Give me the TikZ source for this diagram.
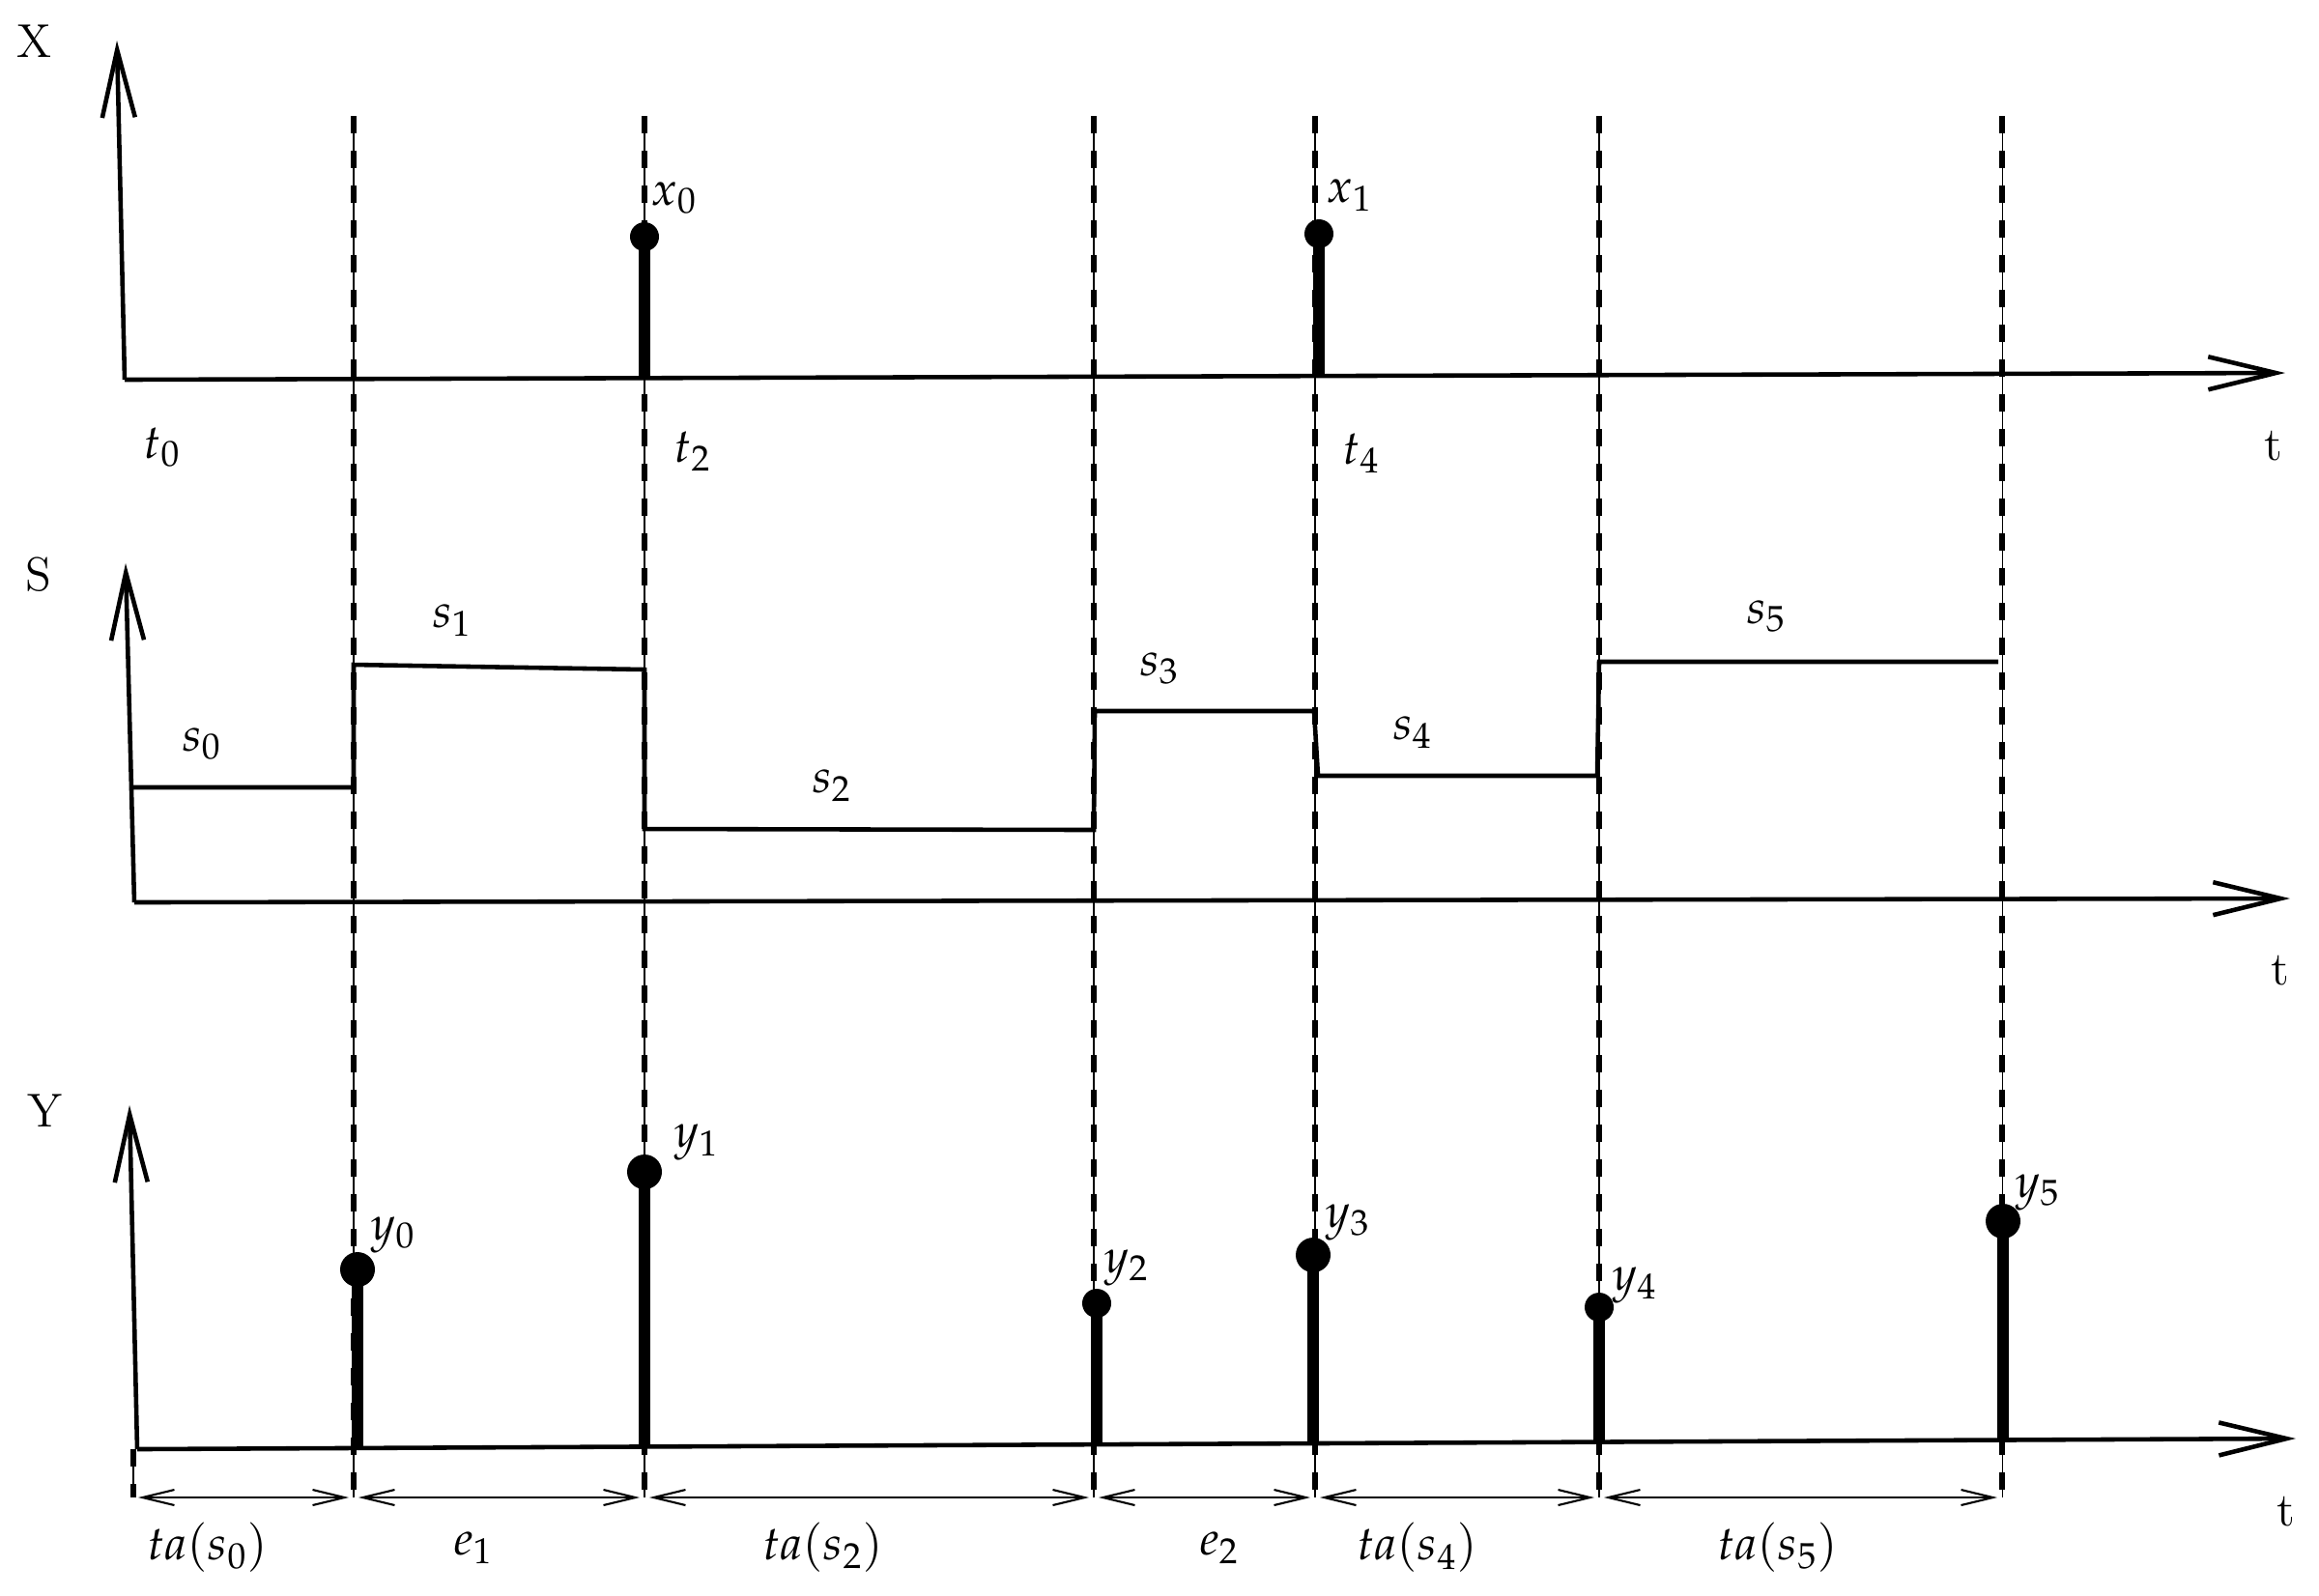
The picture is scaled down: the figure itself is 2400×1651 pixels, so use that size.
\documentclass[tikz,border=0pt]{standalone}
\usepackage{mathpazo}
\usetikzlibrary{arrows.meta}
\begin{document}
\begin{tikzpicture}[x=0.1mm,y=-0.1mm,
  axisline/.style={line width=1.3pt,-{Straight Barb[length=7mm,width=3.4mm,line width=1.3pt]}},
  guidethin/.style={line width=0.3pt},
  guidedash/.style={line width=1.45pt,dash pattern=on 1.8mm off 1.8mm},
  stemline/.style={line width=3.5pt},
  stepline/.style={line width=1.3pt,line join=miter},
  dimline/.style={line width=0.6pt,{Straight Barb[length=3.3mm,width=1.6mm,line width=0.6pt]}-{Straight Barb[length=3.3mm,width=1.6mm,line width=0.6pt]},shorten <=0.5mm,shorten >=0.5mm},
  lab/.style={inner sep=0pt,font=\fontsize{14}{17}\selectfont},
  dotsmall/.style={circle,fill=black,inner sep=0pt,minimum size=3mm},
  dotbig/.style={circle,fill=black,inner sep=0pt,minimum size=3.6mm}]
\useasboundingbox (0,0) rectangle (2400,1651);

% guide lines
\foreach \n/\xx in {1/366,2/667,3/1132,4/1361,5/1655,6/2072}{
  \coordinate (gt\n) at (\xx,120);
  \coordinate (gb\n) at (\xx,1550);
  \draw[guidethin] (gt\n) -- (gb\n);
  \draw[guidedash] (gt\n) -- (gb\n);
}
\coordinate (gt0) at (138,1500);
\coordinate (gb0) at (138,1550);
\draw[guidethin] (gt0) -- (gb0);
\draw[guidedash] (gt0) -- (gb0);

% ---------- X panel ----------
\coordinate (xo) at (129,393);
\coordinate (xtop) at (121,42);
\coordinate (xright) at (2365,386);
\draw[axisline] (xo) -- (xtop);
\draw[axisline] (xo) -- (xright);
\node[lab] (labX) at (36,43) {X};
\node[lab] (labXt) at (2353,462) {t};
\node[lab] (t0) at (168,463) {$t_0$};
\node[lab] (t2) at (717,467) {$t_2$};
\node[lab] (t4) at (1409,469) {$t_4$};

\coordinate (bx0) at (667,391);
\coordinate (bx1) at (1365,389);
\node[dotsmall] (dx0) at (667,245) {};
\node[dotsmall] (dx1) at (1365,242) {};
\draw[stemline] (bx0) -- (dx0.center);
\draw[stemline] (bx1) -- (dx1.center);
\node[lab] (lx0) at (698,205) {$x_0$};
\node[lab] (lx1) at (1397,202) {$x_1$};

% ---------- S panel ----------
\coordinate (so) at (139,934);
\coordinate (stop) at (130,583);
\coordinate (sright) at (2370,930);
\draw[axisline] (so) -- (stop);
\draw[axisline] (so) -- (sright);
\node[lab] (labS) at (40,595) {S};
\node[lab] (labSt) at (2360,1005) {t};

\coordinate (p0) at (137,815);
\coordinate (p1) at (366,815);
\coordinate (p2) at (366,688);
\coordinate (p3) at (667,693);
\coordinate (p4) at (667,858);
\coordinate (p5) at (1132,859);
\coordinate (p6) at (1133,736);
\coordinate (p7) at (1360,736);
\coordinate (p8) at (1364,803);
\coordinate (p9) at (1653,803);
\coordinate (p10) at (1655,685);
\coordinate (p11) at (2068,685);
\draw[stepline] (p0) -- (p1) -- (p2) -- (p3) -- (p4) -- (p5) -- (p6) -- (p7) -- (p8) -- (p9) -- (p10) -- (p11);

\node[lab] (ls0) at (209,770) {$s_0$};
\node[lab] (ls1) at (468,642) {$s_1$};
\node[lab] (ls2) at (861,813) {$s_2$};
\node[lab] (ls3) at (1200,692) {$s_3$};
\node[lab] (ls4) at (1462,758) {$s_4$};
\node[lab] (ls5) at (1828,638) {$s_5$};

% ---------- Y panel ----------
\coordinate (yo) at (142,1500);
\coordinate (ytop) at (134,1144);
\coordinate (yright) at (2376,1489);
\draw[axisline] (yo) -- (ytop);
\draw[axisline] (yo) -- (yright);
\node[lab] (labY) at (47,1150) {Y};
\node[lab] (labYt) at (2366,1565) {t};

\coordinate (by0) at (370,1499);
\coordinate (by1) at (667,1497);
\coordinate (by2) at (1135,1495);
\coordinate (by3) at (1359,1494);
\coordinate (by4) at (1655,1493);
\coordinate (by5) at (2073,1490);
\node[dotbig] (dy0) at (370,1314) {};
\node[dotbig] (dy1) at (667,1213) {};
\node[dotsmall] (dy2) at (1135,1349) {};
\node[dotbig] (dy3) at (1359,1299) {};
\node[dotsmall] (dy4) at (1655,1353) {};
\node[dotbig] (dy5) at (2073,1264) {};
\foreach \i in {0,...,5}{\draw[stemline] (by\i) -- (dy\i.center);}
\node[lab] (ly0) at (407,1278) {$y_0$};
\node[lab] (ly1) at (721,1182) {$y_1$};
\node[lab] (ly2) at (1166,1312) {$y_2$};
\node[lab] (ly3) at (1395,1265) {$y_3$};
\node[lab] (ly4) at (1692,1330) {$y_4$};
\node[lab] (ly5) at (2109,1234) {$y_5$};

% duration arrows
\draw[dimline] (gb0) -- (gb1);
\draw[dimline] (gb1) -- (gb2);
\draw[dimline] (gb2) -- (gb3);
\draw[dimline] (gb3) -- (gb4);
\draw[dimline] (gb4) -- (gb5);
\draw[dimline] (gb5) -- (gb6);
\node[lab] (d0) at (215,1602) {$ta(s_0)$};
\node[lab] (d1) at (490,1602) {$e_1$};
\node[lab] (d2) at (852,1602) {$ta(s_2)$};
\node[lab] (d3) at (1262,1602) {$e_2$};
\node[lab] (d4) at (1467,1602) {$ta(s_4)$};
\node[lab] (d5) at (1840,1602) {$ta(s_5)$};
\end{tikzpicture}
\end{document}
